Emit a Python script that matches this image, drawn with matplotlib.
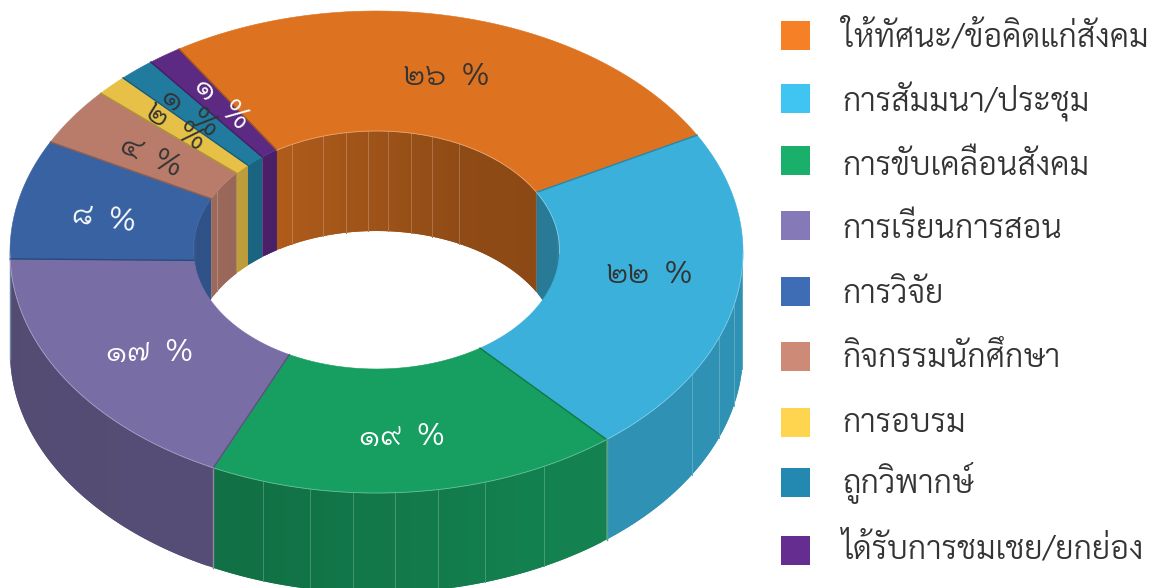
import numpy as np
import matplotlib
matplotlib.use('Agg')
import matplotlib.pyplot as plt
from matplotlib.patches import Polygon, Rectangle

categories = ['ให้ทัศนะ/ข้อคิดแก่สังคม', 'การสัมมนา/ประชุม', 'การขับเคลื่อนสังคม', 'การเรียนการสอน',
              'การวิจัย', 'กิจกรรมนักศึกษา', 'การอบรม', 'ถูกวิพากษ์', 'ได้รับการชมเชย/ยกย่อง']
values = [26.0, 22.25, 18.15, 17.2, 8.0, 3.9, 1.4, 1.6, 1.5]
value_labels = ['๒๖  %', '๒๒  %', '๑๙  %', '๑๗  %', '๘  %', '๔  %', '๒  %', '๑  %', '๑  %']
colors = ['#F58025', '#40C4F2', '#1AB06C', '#8679B8', '#3F6DB5', '#CD8A77', '#FFD54F', '#2389B1', '#662D91']
label_colors = ['#333333', '#333333', 'white', 'white', 'white', '#333333', '#333333', '#333333', 'white']

# legend rows are not evenly spaced in the original
legend_tops = [21, 84, 146, 211, 277, 342, 408, 468, 536]
legend_baselines = [47, 112, 175, 238, 303, 367, 432, 493, 558]

# small shifts of the value labels away from the computed spot, in pixels
label_nudges = [(3, 0), (3, -12), (-5, 5), (5, 4), (-5, 7), (2, 6), (-2, 0), (-7, -3), (4, -1)]

# angles of the thin light lines on the walls
outer_seams = [94, 102.9, 110.9, 120.6, 152.8, 162.8, 170.3, 177.1, 183.7, 190.4, 198.0]
inner_seams = [-59, -27, -16.8, -9.4, -2.5, 4, 11, 18, 27]

plt.rcParams['font.family'] = ['Sarabun', 'DejaVu Sans']
plt.rcParams['font.weight'] = 300

# donut geometry in pixels
CX, CY = 376.5, 252
RX, RY = 366.5, 241
HOLE_CY = 250
HOLE_RX, HOLE_RY = 183, 119
DEPTH = 100
START = -32.6

# the inner ring is a little twisted compared to the outer one
TWIST_AT = [-90, -62, -33, 61, 140, 207, 270]
TWIST = [-3.5, -1.6, -0.4, 0, 4.5, 2, -3.5]


def outer_pt(deg):
    t = np.radians(deg)
    return np.column_stack([CX + RX * np.sin(t), CY - RY * np.cos(t)])


def inner_pt(deg):
    deg = np.asarray(deg, dtype=float)
    wrapped = (deg + 90) % 360 - 90
    t = np.radians(deg + np.interp(wrapped, TWIST_AT, TWIST))
    return np.column_stack([CX + HOLE_RX * np.sin(t), HOLE_CY - HOLE_RY * np.cos(t)])


def shade(color, factor):
    rgb = np.array(matplotlib.colors.to_rgb(color)) * factor
    return tuple(np.clip(rgb, 0, 1))


def lighten(color, amount):
    rgb = np.array(matplotlib.colors.to_rgb(color))
    return tuple(rgb + (1 - rgb) * amount)


def steps(a, b):
    n = max(1, int(np.ceil(b - a)))
    return np.linspace(a, b, n + 1)


def draw_wall(ax, ring, a, b, c, factor, seams, z):
    edges = steps(a, b)
    for p, q in zip(edges[:-1], edges[1:]):
        col = shade(c, factor((p + q) / 2))
        # run each strip into the next one so no hairline shows between them
        top = ring(steps(p, min(q + 1.0, b)))
        pts = np.vstack([top, (top + [0, DEPTH])[::-1]])
        ax.add_patch(Polygon(pts, closed=True, facecolor=col, edgecolor='none', zorder=z))
    for s in seams:
        if a < s < b:
            pt = ring(np.array([s]))[0]
            ax.plot([pt[0], pt[0]], [pt[1], pt[1] + DEPTH], color=lighten(shade(c, factor(s)), 0.22),
                    lw=0.7, zorder=z + 0.5)


def outer_factor(deg):
    return np.interp(deg, [150, 200, 270], [0.74, 0.64, 0.62])


def inner_factor(deg):
    return np.interp(deg, [-90, -60, -34, 27, 60, 62, 90], [0.73, 0.76, 0.72, 0.585, 0.57, 0.62, 0.62])


fig = plt.figure(figsize=(11.51, 5.88), dpi=100)
ax = fig.add_axes([0, 0, 1, 1])
ax.set_xlim(0, 1151)
ax.set_ylim(588, 0)
ax.axis('off')

total = sum(values)
sweeps = [v / total * 360 for v in values]
starts = START + np.concatenate([[0], np.cumsum(sweeps)[:-1]])
ends = starts + np.array(sweeps)

# inner walls, only the far half of the hole shows
for s, e, c in zip(starts, ends, colors):
    for shift in (0, -360):
        a, b = max(s + shift, -90), min(e + shift, 90)
        if b > a:
            draw_wall(ax, inner_pt, a, b, c, inner_factor, inner_seams, 2)

# outer walls, near half only
for s, e, c in zip(starts, ends, colors):
    a, b = max(s, 90), min(e, 270)
    if b > a:
        draw_wall(ax, outer_pt, a, b, c, outer_factor, outer_seams, 3)
        # light line where two slices meet on the wall
        if s > 90:
            pt = outer_pt(np.array([s]))[0]
            ax.plot([pt[0], pt[0]], [pt[1], pt[1] + DEPTH], color=lighten(shade(c, 0.7), 0.3),
                    lw=1.0, zorder=3.6)

# top surface
for s, e, c in zip(starts, ends, colors):
    arc = steps(s, e)
    pts = np.vstack([outer_pt(arc), inner_pt(arc)[::-1]])
    col = shade(c, 0.9)
    ax.add_patch(Polygon(pts, closed=True, facecolor=col, edgecolor=col, lw=0.4, zorder=4))
    # darker line along the start edge of the slice
    edge = np.vstack([outer_pt(np.array([s])), inner_pt(np.array([s]))])
    ax.plot(edge[:, 0], edge[:, 1], color=shade(c, 0.68), lw=1.0, zorder=5)
    # light rim where the top meets a visible wall
    a, b = max(s, 90), min(e, 270)
    if b > a:
        rim = outer_pt(steps(a, b))
        ax.plot(rim[:, 0], rim[:, 1], color=lighten(col, 0.35), lw=0.6, zorder=5)
    a, b = max(s, -90), min(e, 90)
    if b > a:
        rim = inner_pt(steps(a, b))
        ax.plot(rim[:, 0], rim[:, 1], color=lighten(col, 0.35), lw=0.6, zorder=5)

# value labels, thin slices get them turned along the radius
for s, e, text, tc, v, nudge in zip(starts, ends, value_labels, label_colors, values, label_nudges):
    mid = np.radians((s + e) / 2)
    x = CX + 0.75 * RX * np.sin(mid) + nudge[0]
    y = CY - 0.75 * RY * np.cos(mid) + nudge[1]
    rot = 0
    if v < 10:
        rot = np.degrees(np.arctan((RY * np.cos(mid)) / (RX * np.sin(mid))))
    ax.text(x, y, text, color=tc, fontsize=22.5, ha='center', va='center',
            rotation=rot, rotation_mode='anchor', zorder=6)

# legend
for top, base, name, c in zip(legend_tops, legend_baselines, categories, colors):
    ax.add_patch(Rectangle((781, top), 29, 29, facecolor=c, edgecolor='none', zorder=6))
    ax.text(842, base, name, color='#333333', fontsize=23.2, ha='left', va='baseline', zorder=6)

fig.savefig('out.png', dpi=100)
